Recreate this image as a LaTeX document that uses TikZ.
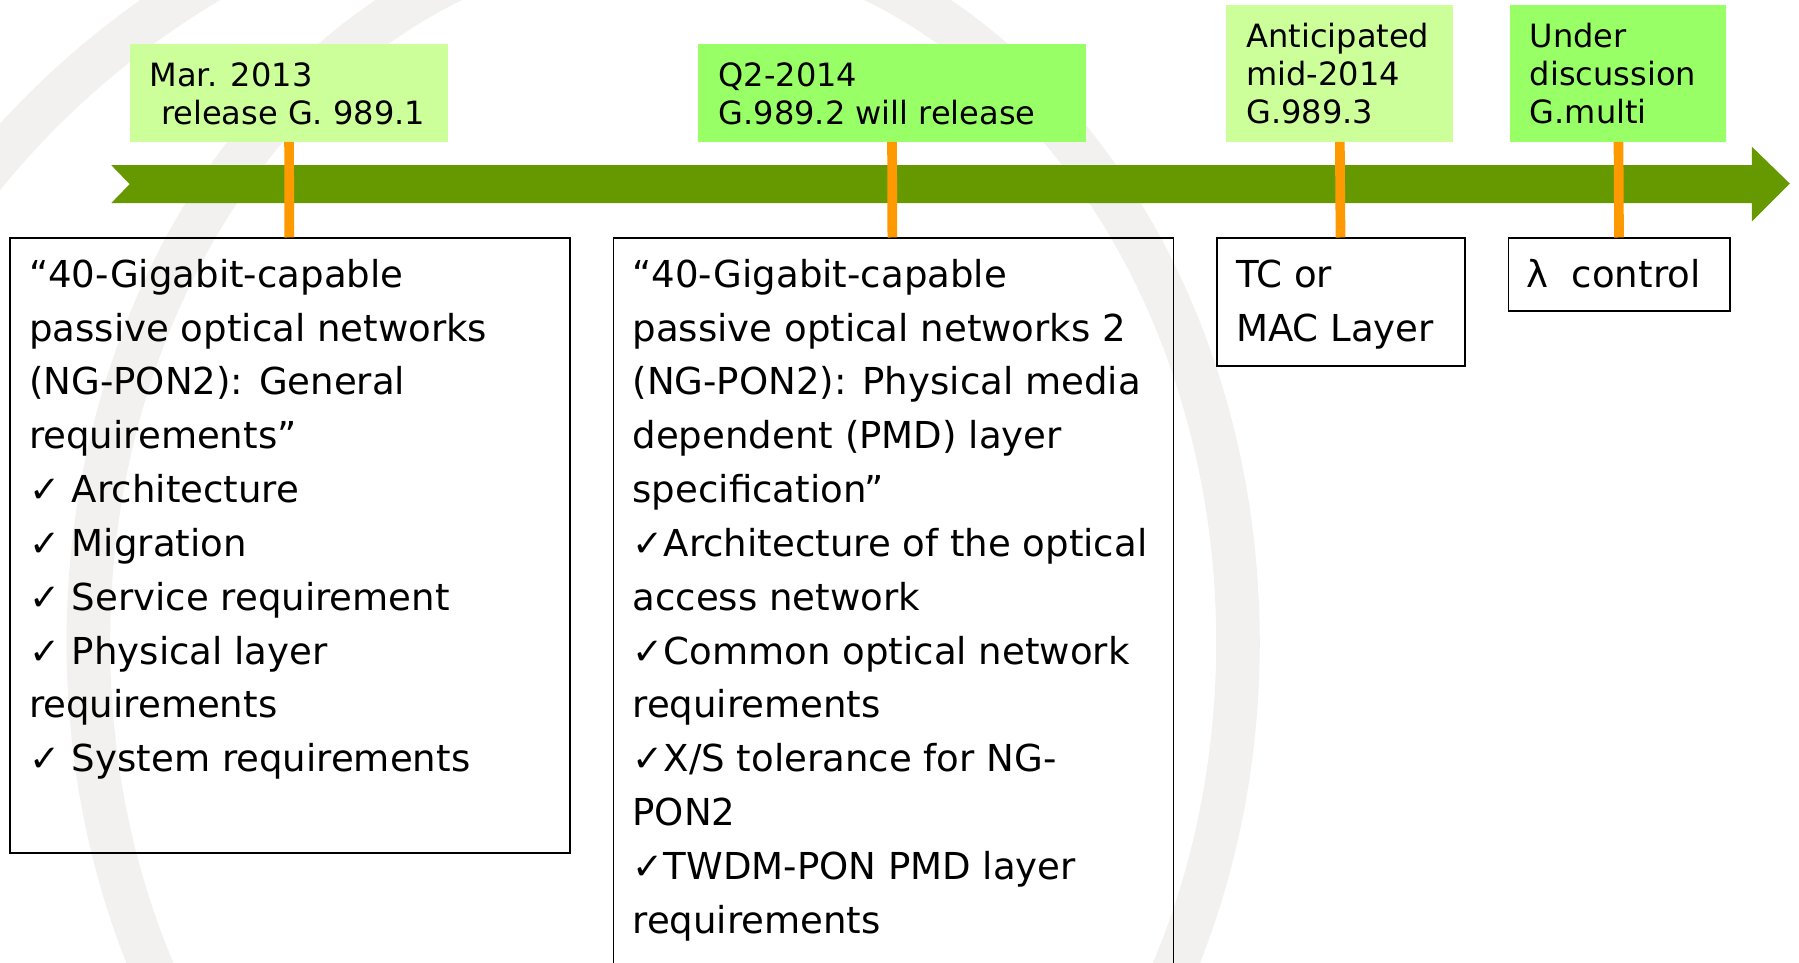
\documentclass[tikz,border=0pt]{standalone}
\usepackage{fontspec}
\setmainfont{DejaVu Sans}
\usepackage{xcolor}
\usepackage{tikz}
\usetikzlibrary{calc,positioning,backgrounds}
\definecolor{dateLight}{HTML}{CCFF99}
\definecolor{dateBright}{HTML}{99FF66}
\definecolor{axisGreen}{HTML}{669900}
\definecolor{stemOrange}{HTML}{FF9900}
\definecolor{wmGray}{HTML}{F2F1EF}

\begin{document}
\begin{tikzpicture}[
  datebox/.style={rectangle, fill=#1, inner sep=0pt, anchor=north west},
  datebox/.default=dateLight,
  datetext/.style={anchor=north west, align=left, inner sep=0pt,
    font=\fontsize{15.9}{18.8}\selectfont},
  specbox/.style={rectangle, draw=black, line width=0.9pt, inner sep=0pt, anchor=north west},
  spectext/.style={anchor=north west, align=left, inner sep=0pt,
    font=\fontsize{18.4}{26.7}\selectfont},
  stem/.style={draw=stemOrange, line width=4.8pt},
  wm/.style={draw=wmGray, line width=0.76cm},
]
\useasboundingbox (0,0) rectangle (31.36,-16.78);

% === release dates (top) ===
\node[datebox, minimum width=5.54cm, minimum height=1.70cm] (d1) at (2.26,-0.76) {};
\node[datebox=dateBright, minimum width=6.76cm, minimum height=1.70cm] (d2) at (12.16,-0.76) {};
\node[datebox, minimum width=3.96cm, minimum height=2.38cm] (d3) at (21.36,-0.08) {};
\node[datebox=dateBright, minimum width=3.76cm, minimum height=2.38cm] (d4) at (26.32,-0.08) {};

\node[datetext] (d1-txt) at ([xshift=3.4mm, yshift=-3.3mm]d1.north west) {Mar. 2013\\\hspace*{2mm}release G. 989.1};
\node[datetext] (d2-txt) at ([xshift=3.6mm, yshift=-3.3mm]d2.north west) {Q2-2014\\G.989.2 will release};
\node[datetext] (d3-txt) at ([xshift=3.6mm, yshift=-3.2mm]d3.north west) {Anticipated\\mid-2014\\G.989.3};
\node[datetext] (d4-txt) at ([xshift=3.4mm, yshift=-3.2mm]d4.north west) {Under\\discussion\\G.multi};

% === recommendations (bottom) ===
\node[specbox, minimum width=9.76cm, minimum height=10.72cm] (l1) at (0.16,-4.14) {};
\node[specbox, minimum width=9.76cm, minimum height=12.9cm] (l2) at (10.68,-4.14) {};
\node[specbox, minimum width=4.32cm, minimum height=2.22cm] (l3) at (21.20,-4.14) {};
\node[specbox, minimum width=3.86cm, minimum height=1.26cm] (l4) at (26.28,-4.14) {};

\node[spectext] (l1-txt) at ([xshift=3.4mm, yshift=-3.7mm]l1.north west)
  {“40-Gigabit-capable\\passive optical networks\\(NG-PON2): General\\requirements”\\
   ✓ Architecture\\✓ Migration\\✓ Service requirement\\✓ Physical layer\\requirements\\
   ✓ System requirements};
\node[spectext] (l2-txt) at ([xshift=3.4mm, yshift=-3.7mm]l2.north west)
  {“40-Gigabit-capable\\passive optical networks 2\\(NG-PON2): Physical media\\
   dependent (PMD) layer\\specification”\\✓Architecture of the optical\\access network\\
   ✓Common optical network\\requirements\\✓X/S tolerance for NG-\\PON2\\
   ✓TWDM-PON PMD layer\\requirements};
\node[spectext] (l3-txt) at ([xshift=3.4mm, yshift=-3.8mm]l3.north west) {TC or\\MAC Layer};
\node[spectext] (l4-txt) at ([xshift=3.2mm, yshift=-3.8mm]l4.north west) {λ\ \ control};

% stems
\draw[stem] (d1) -- (l1);
\draw[stem] (d2) -- (l2);
\draw[stem] (d3) -- (l3);
\draw[stem] (d4) -- (l4);

% time axis and watermark
\begin{scope}[on background layer]
  \draw[wm] (11.56,-11.2) ellipse (10.02cm and 12.4cm);
  \draw[wm] (11.2,-12.4) ++(115:14.8) arc (115:145:14.8);
  \fill[axisGreen] (1.94,-2.88) -- (30.54,-2.88) -- (30.54,-2.56) -- (31.2,-3.2)
    -- (30.54,-3.86) -- (30.54,-3.54) -- (1.94,-3.54) -- (2.26,-3.21) -- cycle;
\end{scope}
\end{tikzpicture}
\end{document}
